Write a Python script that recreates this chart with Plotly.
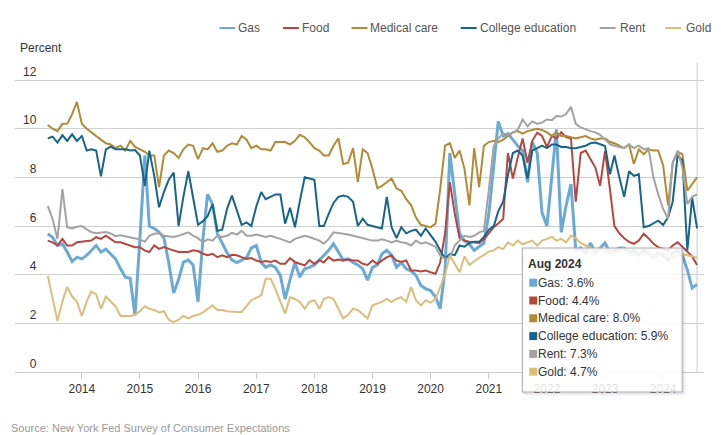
import pandas as pd
import plotly.graph_objects as go

# ---------------- data (monthly, Jun 2013 - Aug 2024) ----------------
start_month = "2013-06-01"

gas = [
    5.68, 5.54, 5.2, 5.27, 4.93, 4.54, 4.72, 4.65, 4.8, 5.0, 5.2, 4.93, 5.05, 4.85,
    4.65, 4.24, 3.9, 3.85, 2.33, 5.5, 8.9, 6.0, 5.9, 5.75, 5.5, 4.5, 3.25, 3.8,
    4.52, 4.6, 4.4, 2.88, 5.47, 7.3, 6.9, 5.7, 5.3, 4.9, 4.6, 4.5, 4.6, 4.7,
    5.1, 5.2, 4.5, 4.3, 4.4, 4.3, 3.97, 3.0, 3.8, 4.5, 3.9, 4.24, 4.3, 4.4,
    4.6, 4.8, 5.0, 5.27, 4.9, 4.6, 4.65, 4.5, 4.4, 4.24, 3.77, 4.3, 4.4, 4.85,
    5.0, 4.8, 4.3, 4.5, 4.24, 4.15, 3.97, 3.56, 3.42, 3.35, 3.08, 2.6, 4.2, 9.0,
    7.3, 5.7, 5.4, 5.25, 5.0, 5.15, 5.3, 6.5, 8.6, 10.3, 9.7, 9.8, 9.55, 9.3,
    9.1, 7.8, 9.45, 9.0, 6.56, 6.0, 8.06, 9.97, 5.74, 6.83, 7.72, 5.0, 5.1, 4.9,
    5.3, 4.9, 5.1, 5.3, 4.9, 5.0, 5.1, 5.1, 4.9, 5.0, 4.8, 5.0, 4.9, 4.7,
    4.9, 4.8, 4.6, 4.9, 5.0, 4.8, 4.2, 3.45, 3.6,
]
food = [
    5.4, 5.33, 5.2, 5.47, 5.2, 5.2, 5.33, 5.36, 5.4, 5.4, 5.54, 5.47, 5.6, 5.47,
    5.33, 5.33, 5.27, 5.2, 5.13, 5.13, 4.99, 4.93, 5.2, 5.06, 5.13, 5.06, 4.99, 4.93,
    4.93, 4.93, 5.0, 4.97, 4.86, 4.8, 4.86, 4.72, 4.8, 4.72, 4.82, 4.8, 4.72, 4.65,
    4.68, 4.58, 4.52, 4.56, 4.52, 4.58, 4.45, 4.45, 4.68, 4.52, 4.45, 4.38, 4.6, 4.45,
    4.6, 4.5, 4.72, 4.58, 4.62, 4.58, 4.62, 4.58, 4.58, 4.45, 4.4, 4.58, 4.45, 4.58,
    4.72, 4.79, 4.58, 4.52, 4.58, 4.17, 4.17, 4.13, 4.17, 4.1, 4.04, 4.5, 5.7, 7.8,
    6.5, 5.5, 5.4, 5.35, 5.33, 5.3, 5.45, 5.7, 5.95, 6.1, 6.3, 9.0, 7.95, 8.8,
    9.6, 8.6, 9.5, 9.84, 9.7, 9.25, 9.7, 9.6, 9.85, 9.65, 9.6, 7.0, 9.0, 9.1,
    8.75, 8.4, 7.65, 9.09, 7.5, 6.0, 5.7, 5.5, 5.35, 5.27, 5.4, 5.68, 5.5, 5.27,
    5.13, 5.05, 5.0, 5.2, 5.33, 5.15, 4.93, 4.75, 4.4,
]
medical_care = [
    10.15, 10.0, 9.9, 10.2, 10.2, 10.6, 11.1, 10.2, 10.0, 9.85, 9.7, 9.55, 9.4, 9.35,
    9.2, 9.3, 9.1, 9.5, 9.25, 9.15, 9.05, 8.9, 8.9, 7.6, 8.9, 9.1, 9.0, 8.8,
    9.15, 9.35, 9.3, 8.75, 9.2, 9.15, 9.4, 9.05, 9.1, 9.3, 9.4, 9.35, 9.7, 9.55,
    9.2, 9.3, 9.15, 9.15, 9.1, 9.45, 9.45, 9.45, 9.35, 9.5, 9.75, 9.65, 9.45, 9.2,
    9.1, 8.9, 8.9, 9.3, 9.6, 8.55, 8.6, 9.2, 7.8, 9.15, 9.0, 8.35, 7.55, 7.65,
    7.8, 7.95, 7.55, 7.45, 7.1, 6.85, 6.35, 6.05, 6.0, 5.95, 6.1, 7.5, 9.3, 9.4,
    8.8, 9.1, 8.35, 6.85, 9.2, 7.6, 9.3, 9.45, 9.5, 9.45, 9.55, 9.7, 9.85, 9.9,
    9.8, 9.9, 9.95, 10.0, 9.95, 9.85, 9.7, 9.85, 9.7, 9.7, 9.65, 9.6, 9.65, 9.7,
    9.6, 9.55, 9.6, 9.6, 9.45, 9.4, 9.3, 9.2, 9.35, 8.55, 9.15, 8.95, 9.15, 9.1,
    9.1, 8.5, 6.85, 8.6, 9.05, 8.95, 7.45, 7.7, 8.0,
]
college_education = [
    9.6, 9.67, 9.43, 9.73, 9.5, 9.77, 9.5, 9.7, 9.1, 9.15, 9.1, 8.04, 9.15, 9.26,
    9.15, 9.15, 9.15, 9.1, 9.12, 8.9, 7.65, 9.1, 8.06, 6.77, 7.4, 7.9, 8.2, 6.0,
    7.2, 8.25, 7.2, 6.05, 6.2, 6.4, 6.9, 5.8, 5.85, 6.7, 7.25, 6.6, 6.05, 6.15,
    6.0, 6.8, 7.4, 7.1, 7.2, 7.3, 7.3, 6.1, 6.75, 5.95, 7.0, 8.0, 7.95, 7.9,
    6.0, 6.0, 6.5, 6.95, 7.2, 7.25, 7.2, 7.0, 6.0, 6.3, 6.05, 6.0, 5.95, 5.9,
    7.2, 5.95, 5.5, 5.95, 5.7, 5.8, 5.85, 5.6, 5.9, 5.6, 5.35, 5.0, 4.65, 4.85,
    4.8, 5.2, 5.15, 5.3, 5.35, 5.35, 5.55, 5.85, 6.0, 6.6, 7.0, 8.1, 9.0, 9.1,
    8.9, 7.95, 9.1, 9.2, 9.3, 9.2, 9.35, 9.35, 9.25, 9.25, 9.2, 9.2, 9.25, 9.3,
    9.4, 9.43, 9.36, 9.29, 8.13, 8.9, 8.0, 7.2, 8.25, 8.06, 8.13, 5.95, 6.0, 6.1,
    6.22, 6.04, 6.36, 7.0, 8.9, 8.7, 5.0, 7.18, 5.9,
]
rent = [
    6.83, 6.29, 5.47, 7.52, 5.95, 5.9, 5.97, 6.0, 5.86, 5.75, 5.7, 5.72, 5.75, 5.7,
    5.58, 5.62, 5.58, 5.52, 5.48, 5.45, 5.35, 5.6, 5.68, 5.7, 5.6, 5.58, 5.55, 5.6,
    5.67, 5.74, 5.6, 5.5, 5.33, 5.45, 5.4, 5.6, 5.55, 5.6, 5.72, 5.65, 5.8, 5.6,
    5.6, 5.65, 5.6, 5.55, 5.6, 5.55, 5.47, 5.4, 5.33, 5.47, 5.55, 5.6, 5.55, 5.47,
    5.4, 5.27, 5.47, 5.74, 5.72, 5.68, 5.65, 5.6, 5.55, 5.47, 5.45, 5.4, 5.4, 5.45,
    5.4, 5.33, 5.4, 5.33, 5.3, 5.2, 5.4, 5.27, 5.33, 5.24, 5.15, 4.79, 4.65, 4.7,
    5.2, 5.4, 5.6, 5.55, 5.6, 5.74, 5.8, 7.5, 9.3, 9.6, 9.8, 9.75, 9.84, 9.95,
    10.38, 10.1, 10.3, 10.2, 10.25, 10.38, 10.35, 10.52, 10.5, 10.6, 10.9, 10.2, 10.05, 9.97,
    9.9, 9.85, 9.75, 9.56, 9.36, 9.3, 9.26, 9.2, 9.35, 9.2, 9.3, 9.15, 9.2, 8.0,
    7.3, 6.7, 6.3, 8.6, 9.1, 8.4, 6.9, 7.2, 7.3,
]
gold = [
    3.95, 3.0, 2.1, 2.9, 3.5, 3.1, 2.9, 2.3, 2.9, 3.3, 3.2, 2.6, 3.1, 2.9,
    2.7, 2.3, 2.3, 2.3, 2.35, 2.5, 2.7, 2.6, 2.55, 2.45, 2.5, 2.15, 2.05, 2.15,
    2.3, 2.2, 2.3, 2.35, 2.45, 2.6, 2.74, 2.55, 2.55, 2.5, 2.47, 2.47, 2.47, 2.74,
    2.95, 3.05, 3.15, 3.83, 3.83, 3.42, 2.9, 2.4, 3.08, 3.0, 2.88, 2.6, 2.88, 2.95,
    2.6, 3.0, 3.08, 3.0, 2.6, 2.2, 2.35, 2.6, 2.55, 2.35, 2.2, 2.74, 2.8, 2.88,
    3.0, 2.88, 3.0, 3.08, 2.88, 3.5, 2.95, 2.74, 2.95, 2.85, 3.0, 3.5, 4.0, 4.8,
    4.47, 4.1, 4.75, 4.4, 4.55, 4.7, 4.8, 4.95, 5.0, 5.13, 5.05, 5.33, 5.2, 5.4,
    5.25, 5.33, 5.4, 5.2, 5.4, 5.47, 5.55, 5.4, 5.47, 5.33, 5.6, 5.5, 5.3, 5.2,
    5.1, 5.0, 5.1, 4.9, 5.0, 4.9, 5.0, 5.1, 4.9, 4.8, 4.9, 4.8, 4.9, 4.7,
    4.8, 4.9, 4.8, 4.7, 4.8, 4.85, 4.8, 4.75, 4.7,
]

series_names = ["Gas", "Food", "Medical care", "College education", "Rent", "Gold"]
series_values = [gas, food, medical_care, college_education, rent, gold]
series_colors = ["#6baad7", "#b5473f", "#b38a35", "#17658a", "#a3a3a3", "#dcbd7c"]
series_widths = [3, 2, 2, 2, 2, 2]

y_ticks = [0, 2, 4, 6, 8, 10, 12]
y_max = 12.7
source_text = "Source: New York Fed Survey of Consumer Expectations"
y_title = "Percent"

# ---------------- geometry (pixels) ----------------
W, H = 721, 435
ML, MR, MB = 10, 17, 63
ZERO_Y, TWELVE_Y = 372, 80
px_per_unit = (ZERO_Y - TWELVE_Y) / 12.0
MT = round(ZERO_Y - y_max * px_per_unit)
PW, PH = W - ML - MR, H - MT - MB
FONT = "Liberation Sans, Arial, sans-serif"


def xp(X):
    return (X - ML) / PW


def yp(Y):
    return (H - MB - Y) / PH


dates = pd.date_range(start_month, periods=len(gas), freq="MS")
first_px, last_px = 43, 697
scale = (last_px - first_px) / (dates[-1] - dates[0]).total_seconds()
x_start = dates[0] - pd.Timedelta(seconds=(first_px - ML) / scale)
x_end = dates[-1] + pd.Timedelta(seconds=(W - MR - last_px) / scale)

fig = go.Figure()
for name, vals, col, lw in zip(series_names, series_values, series_colors, series_widths):
    fig.add_trace(go.Scatter(
        x=dates, y=vals, name=name, mode="lines",
        line=dict(color=col, width=lw), showlegend=False,
        hovertemplate="%{y:.1f}%<extra>" + name + "</extra>",
    ))

shapes = []
annotations = []

# crosshair at the last month
shapes.append(dict(type="line", xref="x", yref="paper", x0=dates[-1], x1=dates[-1],
                   y0=0, y1=1, line=dict(color="#cccccc", width=1), layer="below"))

# custom legend
legend_line_x = [216, 280, 349, 459, 599, 665]
legend_text_x = [233, 297, 366, 476, 617, 684]
for name, col, lx, tx in zip(series_names, series_colors, legend_line_x, legend_text_x):
    shapes.append(dict(type="line", xref="paper", yref="paper",
                       x0=xp(lx), x1=xp(lx + 16), y0=yp(28), y1=yp(28),
                       line=dict(color=col, width=2)))
    annotations.append(dict(text=name, xref="paper", yref="paper", x=xp(tx), y=yp(28),
                            xanchor="left", yanchor="middle", showarrow=False,
                            font=dict(family=FONT, size=12, color="#555555")))

# tooltip box
bx0, bx1, by0, by1 = 521, 682, 248, 392
for off, a in [(3, 0.05), (2, 0.08), (1, 0.12)]:
    shapes.append(dict(type="rect", xref="paper", yref="paper",
                       x0=xp(bx0 + off), x1=xp(bx1 + off), y0=yp(by1 + off), y1=yp(by0 + off),
                       line=dict(color=f"rgba(0,0,0,{a})", width=1),
                       fillcolor="rgba(0,0,0,0)", layer="above"))
shapes.append(dict(type="rect", xref="paper", yref="paper",
                   x0=xp(bx0), x1=xp(bx1), y0=yp(by1), y1=yp(by0),
                   line=dict(color="#a8a8a8", width=1),
                   fillcolor="rgba(255,255,255,0.85)", layer="above"))
annotations.append(dict(text="<b>" + dates[-1].strftime("%b %Y") + "</b>",
                        xref="paper", yref="paper", x=xp(525), y=yp(264),
                        xanchor="left", yanchor="middle", showarrow=False,
                        font=dict(family=FONT, size=12, color="#333333")))
row_y0, row_dy = 282.7, 17.8
for k, (name, vals, col) in enumerate(zip(series_names, series_values, series_colors)):
    ry = row_y0 + k * row_dy
    shapes.append(dict(type="rect", xref="paper", yref="paper",
                       x0=xp(528), x1=xp(536), y0=yp(ry + 4), y1=yp(ry - 4),
                       line=dict(width=0), fillcolor=col, layer="above"))
    annotations.append(dict(text=f"{name}: {vals[-1]:.1f}%",
                            xref="paper", yref="paper", x=xp(535), y=yp(ry),
                            xanchor="left", yanchor="middle", showarrow=False,
                            font=dict(family=FONT, size=12, color="#333333")))

# y title and source
annotations.append(dict(text=y_title, xref="paper", yref="paper", x=xp(13), y=yp(48),
                        xanchor="left", yanchor="middle", showarrow=False,
                        font=dict(family=FONT, size=12, color="#333333")))
annotations.append(dict(text=source_text, xref="paper", yref="paper", x=xp(4), y=yp(428),
                        xanchor="left", yanchor="middle", showarrow=False,
                        font=dict(family=FONT, size=11, color="#999999")))

fig.update_layout(
    width=W, height=H, autosize=False,
    margin=dict(l=ML, r=MR, t=MT, b=MB, pad=0),
    paper_bgcolor="white", plot_bgcolor="white",
    font=dict(family=FONT, size=12, color="#333333"),
    showlegend=False,
    shapes=shapes, annotations=annotations,
    hovermode=False,
)
fig.update_xaxes(
    type="date", range=[x_start, x_end],
    tick0="2014-01-01", dtick="M12", tickformat="%Y",
    ticks="outside", ticklen=6, tickcolor="#cccccc", tickwidth=1,
    showline=True, linecolor="#cccccc", linewidth=1,
    showgrid=False, zeroline=False,
    tickfont=dict(family=FONT, size=12, color="#333333"),
)
fig.update_yaxes(
    range=[0, y_max], tickmode="array", tickvals=y_ticks,
    ticktext=[("\u2007" if v < 10 else "") + str(v) for v in y_ticks],
    ticklabelposition="inside top", ticks="", ticklabelstandoff=5,
    showgrid=True, gridcolor="#d0d0d0", gridwidth=1,
    zeroline=False, showline=False,
    tickfont=dict(family=FONT, size=12, color="#333333"),
)

fig.write_html(
    "out.html",
    config={"displayModeBar": False},
    post_script="document.body.style.margin='0';document.body.style.overflow='hidden';",
)
